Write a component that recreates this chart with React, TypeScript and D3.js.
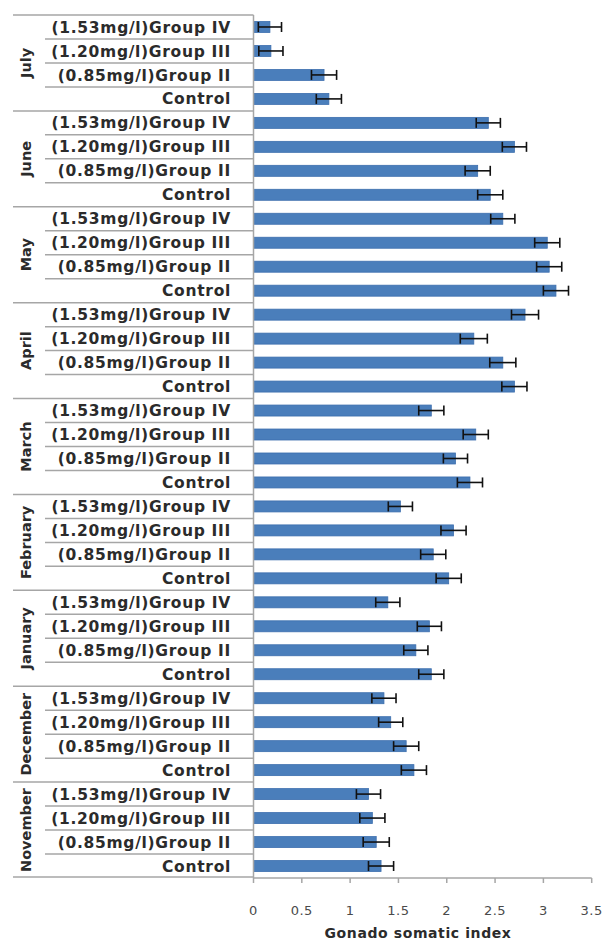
import React from "react";
import * as d3 from "d3";

// Months in chronological order (bottom -> top in chart)
const months = ["November", "December", "January", "February", "March", "April", "May", "June", "July"];
// Sub-categories within each month (bottom -> top)
const groups = ["Control", "(0.85mg/l)Group II", "(1.20mg/l)Group III", "(1.53mg/l)Group IV"];

// Gonado somatic index values per group, indexed by month
const controlValues = [1.32, 1.66, 1.84, 2.02, 2.24, 2.70, 3.13, 2.45, 0.78];
const groupIIValues = [1.27, 1.58, 1.68, 1.86, 2.09, 2.58, 3.06, 2.32, 0.73];
const groupIIIValues = [1.23, 1.42, 1.82, 2.07, 2.30, 2.28, 3.04, 2.70, 0.18];
const groupIVValues = [1.19, 1.35, 1.39, 1.52, 1.84, 2.81, 2.58, 2.43, 0.17];

// Error (± standard error)
const controlErrors = [0.13, 0.13, 0.13, 0.13, 0.13, 0.13, 0.13, 0.13, 0.13];
const groupIIErrors = [0.135, 0.13, 0.125, 0.13, 0.125, 0.135, 0.13, 0.13, 0.13];
const groupIIIErrors = [0.13, 0.125, 0.125, 0.13, 0.13, 0.14, 0.13, 0.125, 0.125];
const groupIVErrors = [0.125, 0.125, 0.125, 0.125, 0.13, 0.14, 0.125, 0.125, 0.12];

const xTicks = [0, 0.5, 1, 1.5, 2, 2.5, 3, 3.5];
const xTitle = "Gonado somatic index";

const W = 606;
const H = 940;

export default function App() {
  const seriesValues = [controlValues, groupIIValues, groupIIIValues, groupIVValues];
  const seriesErrors = [controlErrors, groupIIErrors, groupIIIErrors, groupIVErrors];

  type Row = { key: string; month: string; group: string; value: number; err: number; gi: number; mi: number };
  const rows: Row[] = [];
  // top to bottom order: latest month first, Group IV first
  for (let mi = months.length - 1; mi >= 0; mi--) {
    for (let gi = groups.length - 1; gi >= 0; gi--) {
      rows.push({
        key: months[mi] + "|" + groups[gi],
        month: months[mi],
        group: groups[gi],
        value: seriesValues[gi][mi],
        err: seriesErrors[gi][mi],
        gi,
        mi,
      });
    }
  }

  const plotTop = 15;
  const plotBottom = 878;
  const axisX = 253.5;
  const x = d3.scaleLinear().domain([0, 3.5]).range([axisX, 591.7]);
  const y = d3.scaleBand<string>().domain(rows.map((r) => r.key)).range([plotTop, plotBottom]).padding(0);
  const step = y.step();
  const barH = 11;

  const monthTopDown = months.slice().reverse();
  const gridColor = "#a6a6a6";

  return (
    <svg width={W} height={H} style={{ position: "absolute", left: 0, top: 0, background: "#fff" }}>
      {/* label grid lines */}
      {rows.map((r, i) => {
        const yy = (y(r.key) as number);
        const isMonthTop = r.gi === groups.length - 1;
        return (
          <line
            key={"gl" + i}
            x1={isMonthTop ? 13 : 45}
            x2={axisX}
            y1={yy}
            y2={yy}
            stroke={gridColor}
            strokeWidth={1.5}
          />
        );
      })}
      <line x1={13} x2={axisX} y1={plotBottom - 1} y2={plotBottom - 1} stroke={gridColor} strokeWidth={1.5} />

      {/* category labels */}
      {rows.map((r, i) => (
        <text
          key={"cl" + i}
          x={231}
          y={(y(r.key) as number) + step / 2}
          dy="0.36em"
          textAnchor="end"
          fontFamily="DejaVu Sans"
          fontWeight="bold"
          fontSize={15.5}
          letterSpacing={0.7}
          fill="#2b2b2b"
        >
          {r.group}
        </text>
      ))}

      {/* month labels */}
      {monthTopDown.map((m, i) => {
        const top = y(m + "|" + groups[groups.length - 1]) as number;
        const bottom = (y(m + "|" + groups[0]) as number) + step;
        const cy = (top + bottom) / 2;
        return (
          <text
            key={"m" + i}
            transform={`translate(31,${cy}) rotate(-90)`}
            textAnchor="middle"
            fontFamily="DejaVu Sans"
            fontWeight="bold"
            fontSize={14.5}
            fill="#2b2b2b"
          >
            {m}
          </text>
        );
      })}

      {/* bars */}
      {rows.map((r, i) => {
        const yc = (y(r.key) as number) + step / 2;
        return (
          <rect
            key={"b" + i}
            x={x(0)}
            y={yc - barH / 2}
            width={x(r.value) - x(0)}
            height={barH}
            fill="#4a7ebb"
            stroke="#3d6fae"
            strokeWidth={0.8}
          />
        );
      })}

      {/* error bars */}
      {rows.map((r, i) => {
        const yc = (y(r.key) as number) + step / 2;
        const x1 = x(r.value - r.err);
        const x2 = x(r.value + r.err);
        return (
          <g key={"e" + i} stroke="#111" strokeWidth={1.6}>
            <line x1={x1} x2={x2} y1={yc} y2={yc} />
            <line x1={x1} x2={x1} y1={yc - 5} y2={yc + 5} />
            <line x1={x2} x2={x2} y1={yc - 5} y2={yc + 5} />
          </g>
        );
      })}

      {/* y axis line */}
      <line x1={axisX} x2={axisX} y1={plotTop} y2={plotBottom} stroke={gridColor} strokeWidth={1.5} />
      {/* x axis */}
      <line x1={axisX} x2={x(3.5)} y1={plotBottom} y2={plotBottom} stroke={gridColor} strokeWidth={1.5} />
      {xTicks.map((t, i) => (
        <g key={"xt" + i}>
          <line x1={x(t)} x2={x(t)} y1={plotBottom} y2={plotBottom + 5} stroke={gridColor} strokeWidth={1.5} />
          <text
            x={x(t)}
            y={910}
            dy="0.36em"
            textAnchor="middle"
            fontFamily="DejaVu Sans"
            fontSize={13}
            letterSpacing={0.5}
            fill="#4a4a4a"
          >
            {String(t)}
          </text>
        </g>
      ))}
      <text
        x={418}
        y={933}
        dy="0.36em"
        textAnchor="middle"
        fontFamily="DejaVu Sans"
        fontWeight="bold"
        fontSize={14}
        letterSpacing={0.6}
        fill="#2b2b2b"
      >
        {xTitle}
      </text>
    </svg>
  );
}
